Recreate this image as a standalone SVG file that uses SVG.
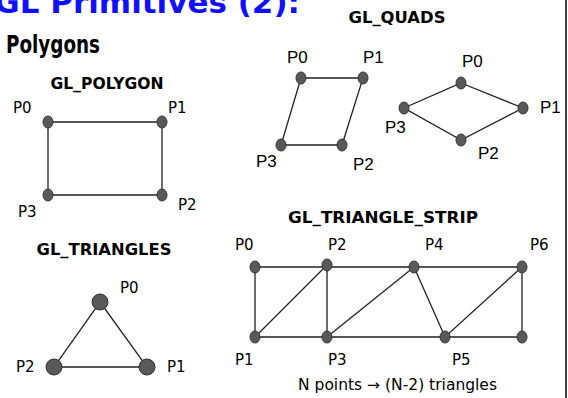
<svg xmlns="http://www.w3.org/2000/svg" width="568" height="398" viewBox="0 0 568 398">
<style>
.title{font-family:"DejaVu Sans","Liberation Sans",sans-serif;font-weight:bold;font-size:31px;fill:#1010ff}
.h{font-family:"DejaVu Sans","Liberation Sans",sans-serif;font-weight:bold;fill:#000}
.sub{font-size:15px}
.lbl{font-family:"DejaVu Sans","Liberation Sans",sans-serif;font-size:15px;fill:#000}
.lbla{font-family:"Liberation Sans",Arial,sans-serif;font-size:17px;fill:#000}
.e{stroke:#222;stroke-width:1.3;fill:none}
.d{fill:#595959;stroke:#333;stroke-width:1}
</style>
<rect width="568" height="398" fill="#fff"/>
<text class="title" x="300" y="13" text-anchor="end">OpenGL Primitives (2):</text>
<text class="h" x="6" y="53" font-size="24" textLength="94" lengthAdjust="spacingAndGlyphs">Polygons</text>
<line x1="566" y1="0" x2="566" y2="398" stroke="#000" stroke-width="1.5"/>

<g id="connectors">
  <polygon class="e" points="48,122 162,122 162,195 48,195"/>
  <polygon class="e" points="100,302 147,367 54,367"/>
  <polygon class="e" points="301,78 363,78 342,145 281,145"/>
  <polygon class="e" points="461,83 523,108 461,140 404,108"/>
  <path class="e" d="M255,267 H522 M255,337 H522 M255,267 V337 M327,265 V337 M522,267 V337 M255,337 L327,265 M327,337 L414,267 L445,337 L522,267"/>
</g>

<g id="gl_polygon">
  <text class="h sub" x="107" y="89" text-anchor="middle" textLength="113" lengthAdjust="spacingAndGlyphs">GL_POLYGON</text>
  <ellipse class="d" cx="48" cy="122" rx="5" ry="6"/>
  <ellipse class="d" cx="162" cy="122" rx="5" ry="6"/>
  <ellipse class="d" cx="162" cy="195" rx="5" ry="6"/>
  <ellipse class="d" cx="48" cy="195" rx="5" ry="6"/>
  <text class="lbl" x="13" y="113">P0</text>
  <text class="lbl" x="168" y="113">P1</text>
  <text class="lbl" x="178" y="210">P2</text>
  <text class="lbl" x="18" y="217">P3</text>
</g>

<g id="gl_triangles">
  <text class="h sub" x="104" y="255" text-anchor="middle" textLength="135" lengthAdjust="spacingAndGlyphs">GL_TRIANGLES</text>
  <circle class="d" cx="100" cy="302" r="8"/>
  <circle class="d" cx="147" cy="367" r="8"/>
  <circle class="d" cx="54" cy="367" r="8"/>
  <text class="lbl" x="120" y="293">P0</text>
  <text class="lbl" x="167" y="372">P1</text>
  <text class="lbl" x="16" y="372">P2</text>
</g>

<g id="gl_quads">
  <text class="h sub" x="397" y="23" text-anchor="middle" textLength="97" lengthAdjust="spacingAndGlyphs">GL_QUADS</text>
  <ellipse class="d" cx="301" cy="78" rx="5" ry="6"/>
  <ellipse class="d" cx="363" cy="78" rx="5" ry="6"/>
  <ellipse class="d" cx="342" cy="145" rx="5" ry="6"/>
  <ellipse class="d" cx="281" cy="145" rx="5" ry="6"/>
  <text class="lbla" x="287" y="63">P0</text>
  <text class="lbla" x="363" y="63">P1</text>
  <text class="lbla" x="353" y="170">P2</text>
  <text class="lbla" x="256" y="167">P3</text>
  <ellipse class="d" cx="461" cy="83" rx="5" ry="6"/>
  <ellipse class="d" cx="523" cy="108" rx="5" ry="6"/>
  <ellipse class="d" cx="461" cy="140" rx="5" ry="6"/>
  <ellipse class="d" cx="404" cy="108" rx="5" ry="6"/>
  <text class="lbla" x="462" y="67">P0</text>
  <text class="lbla" x="540" y="113">P1</text>
  <text class="lbla" x="478" y="159">P2</text>
  <text class="lbla" x="385" y="133">P3</text>
</g>

<g id="gl_triangle_strip">
  <text class="h sub" x="383" y="223" text-anchor="middle" textLength="190" lengthAdjust="spacingAndGlyphs">GL_TRIANGLE_STRIP</text>
  <ellipse class="d" cx="255" cy="267" rx="5" ry="6"/>
  <ellipse class="d" cx="327" cy="265" rx="5" ry="6"/>
  <ellipse class="d" cx="414" cy="267" rx="5" ry="6"/>
  <ellipse class="d" cx="522" cy="267" rx="5" ry="6"/>
  <ellipse class="d" cx="255" cy="337" rx="5" ry="6"/>
  <ellipse class="d" cx="327" cy="337" rx="5" ry="6"/>
  <ellipse class="d" cx="445" cy="337" rx="5" ry="6"/>
  <ellipse class="d" cx="522" cy="337" rx="5" ry="6"/>
  <text class="lbl" x="235" y="250">P0</text>
  <text class="lbl" x="328" y="250">P2</text>
  <text class="lbl" x="425" y="250">P4</text>
  <text class="lbl" x="530" y="250">P6</text>
  <text class="lbl" x="235" y="365">P1</text>
  <text class="lbl" x="328" y="365">P3</text>
  <text class="lbl" x="452" y="365">P5</text>
  <text class="lbl" x="298" y="390" font-size="16" textLength="199" lengthAdjust="spacingAndGlyphs">N points → (N-2) triangles</text>
</g>
</svg>
